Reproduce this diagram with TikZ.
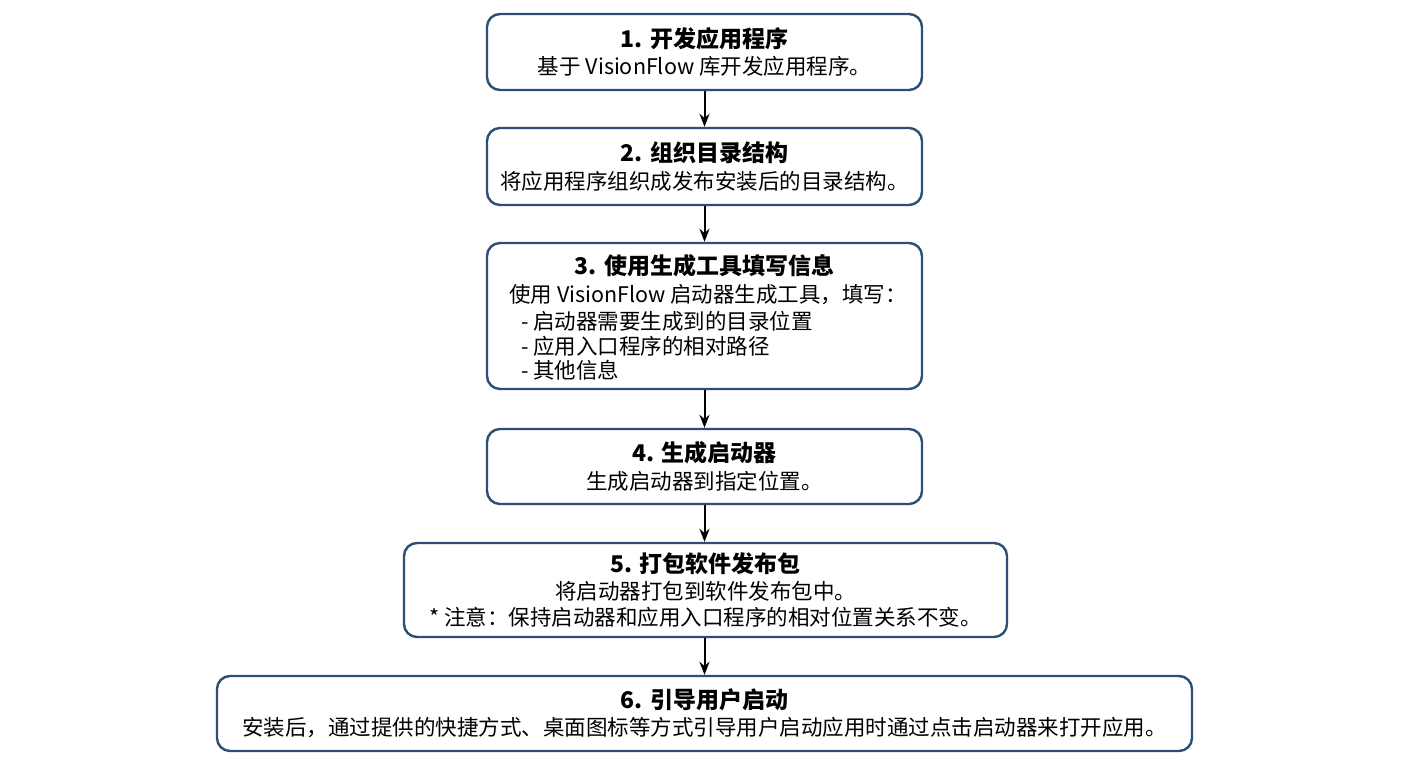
\documentclass[tikz,border=0pt]{standalone}
\usepackage{fontspec}
\setmainfont{Noto Sans CJK SC}
\usetikzlibrary{arrows.meta}
\definecolor{bd}{HTML}{2E4E75}
\begin{document}
\begin{tikzpicture}[x=1pt,y=-1pt,
  box/.style={draw=bd,line width=2.4pt,rounded corners=13pt,fill=white},
  ttl/.style={font=\bfseries\fontsize{23}{27}\selectfont,inner sep=0},
  txt/.style={font=\fontsize{21.5}{26}\selectfont,inner sep=0},
  arr/.style={-{Stealth[length=13pt,width=10pt]},line width=2pt,black}]
\useasboundingbox (0,0) rectangle (1408,768);
\node[box,minimum width=435pt,minimum height=76pt] (b1) at (704.5,52) {};
\node[ttl] at (704.5,39) {1. 开发应用程序};
\node[txt] at (704.5,66) {基于 VisionFlow 库开发应用程序。};
\node[box,minimum width=435pt,minimum height=77pt] (b2) at (704.5,166.5) {};
\node[ttl] at (704.5,153) {2. 组织目录结构};
\node[txt] at (704.5,181) {将应用程序组织成发布安装后的目录结构。};
\node[box,minimum width=435pt,minimum height=146pt] (b3) at (704.5,316) {};
\node[ttl] at (704.5,266) {3. 使用生成工具填写信息};
\node[txt,anchor=west] at (509,295) {使用 VisionFlow 启动器生成工具，填写：};
\node[txt,anchor=west] at (521,321) {- 启动器需要生成到的目录位置};
\node[txt,anchor=west] at (521,346) {- 应用入口程序的相对路径};
\node[txt,anchor=west] at (521,370) {- 其他信息};
\node[box,minimum width=435pt,minimum height=75pt] (b4) at (704.5,466.5) {};
\node[ttl] at (704.5,453) {4. 生成启动器};
\node[txt] at (704.5,481) {生成启动器到指定位置。};
\node[box,minimum width=603pt,minimum height=94pt] (b5) at (705.5,590) {};
\node[ttl] at (705.5,564) {5. 打包软件发布包};
\node[txt] at (705.5,591) {将启动器打包到软件发布包中。};
\node[txt] at (705.5,617) {* 注意：保持启动器和应用入口程序的相对位置关系不变。};
\node[box,minimum width=975pt,minimum height=75pt] (b6) at (704.5,713.5) {};
\node[ttl] at (704.5,700) {6. 引导用户启动};
\node[txt] at (704.5,728) {安装后，通过提供的快捷方式、桌面图标等方式引导用户启动应用时通过点击启动器来打开应用。};
\draw[arr] (b1.south) -- (b2.north);
\draw[arr] (b2.south) -- (b3.north);
\draw[arr] (b3.south) -- (b4.north);
\draw[arr] (b4.south) -- (b5.north-|b4.south);
\draw[arr] (b5.south-|b4.south) -- (b6.north);
\end{tikzpicture}
\end{document}
